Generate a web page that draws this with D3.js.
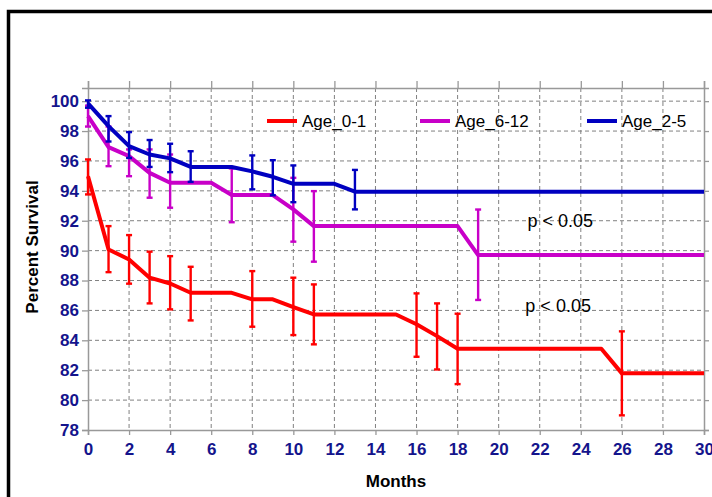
<!DOCTYPE html>
<html>
<head>
<meta charset="utf-8">
<script src="https://cdn.jsdelivr.net/npm/d3@7"></script>
<style>
  body { margin: 0; background: #fff; }
  text { font-family: Arial, "Liberation Sans", sans-serif; }
</style>
</head>
<body>
<div id="plot"></div>
<script>
// tick labels
const xTicks = [0, 2, 4, 6, 8, 10, 12, 14, 16, 18, 20, 22, 24, 26, 28, 30];
const yTicks = [78, 80, 82, 84, 86, 88, 90, 92, 94, 96, 98, 100];

const groups = ["Age_0-1", "Age_6-12", "Age_2-5"];

// Age_0-1 survival curve + error bars
const age01Months = [0, 1, 2, 3, 4, 5, 7, 8, 9, 10, 11, 15, 16, 17, 18, 25, 26, 30];
const age01Values = [94.98, 90.08, 89.41, 88.19, 87.8, 87.18, 87.18, 86.74, 86.74, 86.22, 85.73, 85.73, 85.07, 84.28, 83.44, 83.44, 81.79, 81.79];
const age01ErrMonths = [0, 1, 2, 3, 4, 5, 8, 10, 11, 16, 17, 18, 26];
const age01ErrLow = [93.76, 88.56, 87.79, 86.47, 86.07, 85.33, 84.91, 84.35, 83.73, 82.9, 82.05, 81.07, 78.98];
const age01ErrHigh = [96.1, 91.64, 91.04, 89.93, 89.63, 88.92, 88.63, 88.19, 87.74, 87.14, 86.47, 85.78, 84.6];

// Age_6-12
const age612Months = [0, 1, 2, 3, 4, 6, 7, 9, 10, 11, 18, 19, 30];
const age612Values = [99.0, 96.92, 96.32, 95.2, 94.54, 94.54, 93.72, 93.72, 92.76, 91.64, 91.64, 89.7, 89.7];
const age612ErrMonths = [0, 1, 2, 3, 4, 7, 10, 11, 19];
const age612ErrLow = [98.3, 95.65, 94.98, 93.54, 92.87, 91.9, 90.6, 89.26, 86.7];
const age612ErrHigh = [99.7, 98.3, 96.77, 96.77, 96.43, 95.5, 94.87, 93.98, 92.75];

// Age_2-5
const age25Months = [0, 1, 2, 3, 4, 5, 7, 8, 9, 10, 12, 13, 30];
const age25Values = [99.85, 98.33, 96.99, 96.43, 96.17, 95.6, 95.6, 95.3, 94.94, 94.47, 94.47, 93.94, 93.94];
const age25ErrMonths = [0, 1, 2, 3, 4, 5, 8, 9, 10, 13];
const age25ErrLow = [99.56, 97.3, 96.2, 95.6, 95.25, 94.6, 94.1, 93.7, 93.24, 92.76];
const age25ErrHigh = [100.05, 99.0, 97.93, 97.4, 97.15, 96.65, 96.37, 96.05, 95.7, 95.4];

const pLabels = ["p < 0.05", "p < 0.05"];
const pValuePos = [[21.4, 91.6], [21.3, 85.9]];

const colors = ["#ff0000", "#c800c8", "#0000c0"];

const series = [
  {name: groups[0], color: colors[0], months: age01Months, values: age01Values,
   err: [age01ErrMonths, age01ErrLow, age01ErrHigh]},
  {name: groups[1], color: colors[1], months: age612Months, values: age612Values,
   err: [age612ErrMonths, age612ErrLow, age612ErrHigh]},
  {name: groups[2], color: colors[2], months: age25Months, values: age25Values,
   err: [age25ErrMonths, age25ErrLow, age25ErrHigh]}
];

constructPlot();

function constructPlot(){
  const w = 712;
  const h = 497;
  const left = 88, right = 704, top = 88, bottom = 430;

  const xScale = d3.scaleLinear()
                   .domain([0, 30])
                   .range([left, right]);

  const yScale = d3.scaleLinear()
                   .domain([78, 100.88])
                   .range([bottom, top]);

  const svg = d3.select("#plot")
                .append("svg")
                .attr("width", w)
                .attr("height", h);

  // outer frame (runs off the right/bottom edge)
  svg.append("rect")
     .attr("x", 8.5)
     .attr("y", 11.5)
     .attr("width", 800)
     .attr("height", 600)
     .attr("fill", "none")
     .attr("stroke", "#000")
     .attr("stroke-width", 3.5);

  // dashed grid
  const grid = svg.append("g").attr("class", "grid");
  grid.selectAll("line.gx")
      .data(xTicks.slice(1, -1))
      .enter()
      .append("line")
        .attr("x1", d => xScale(d))
        .attr("x2", d => xScale(d))
        .attr("y1", top)
        .attr("y2", bottom)
        .attr("stroke", "#808080")
        .attr("stroke-dasharray", "4,3");
  grid.selectAll("line.gy")
      .data(yTicks.slice(1))
      .enter()
      .append("line")
        .attr("x1", left)
        .attr("x2", right)
        .attr("y1", d => yScale(d))
        .attr("y2", d => yScale(d))
        .attr("stroke", "#808080")
        .attr("stroke-dasharray", "4,3");

  const xAxis = d3.axisBottom(xScale).tickValues(xTicks).tickSize(5).tickPadding(8).tickFormat(d3.format("d"));
  const yAxis = d3.axisLeft(yScale).tickValues(yTicks).tickSize(6).tickPadding(3);
  const xTop = d3.axisTop(xScale).tickValues(xTicks).tickSize(7).tickFormat("");
  const yRight = d3.axisRight(yScale).tickValues(yTicks).tickSize(5).tickFormat("");

  svg.append("g")
     .attr("transform", "translate(0," + bottom + ")")
     .attr("id", "x-axis")
     .call(xAxis);
  svg.append("g")
     .attr("transform", "translate(" + left + ",0)")
     .attr("id", "y-axis")
     .call(yAxis);
  svg.append("g")
     .attr("transform", "translate(0," + top + ")")
     .call(xTop);
  svg.append("g")
     .attr("transform", "translate(" + right + ",0)")
     .call(yRight);

  svg.selectAll(".domain")
     .attr("stroke", "#999")
     .attr("stroke-width", 1.5);
  svg.selectAll(".tick line")
     .attr("stroke", "#999")
     .attr("stroke-width", 1.3);
  svg.selectAll(".tick text")
     .attr("fill", "#14148c")
     .style("font-size", "17px")
     .style("font-weight", "bold");

  svg.append("text")
     .attr("x", 396)
     .attr("y", 487)
     .attr("text-anchor", "middle")
     .style("font-size", "17px")
     .style("font-weight", "bold")
     .text("Months");

  svg.append("text")
     .attr("transform", "translate(38,247) rotate(-90)")
     .attr("text-anchor", "middle")
     .style("font-size", "17px")
     .style("font-weight", "bold")
     .text("Percent Survival");

  //-----------------plot data-----------------------
  const line = d3.line()
                 .x(d => xScale(d[0]))
                 .y(d => yScale(d[1]));

  series.forEach(s => {
    const pts = s.months.map((m, i) => [m, s.values[i]]);
    svg.append("path")
       .datum(pts)
       .attr("d", line)
       .attr("fill", "none")
       .attr("stroke", s.color)
       .attr("stroke-width", 4)
       .attr("stroke-linejoin", "round");

    const bars = s.err[0].map((m, i) => [m, s.err[1][i], s.err[2][i]]);
    const eb = svg.append("g").attr("stroke", s.color).attr("stroke-width", 2.4);
    eb.selectAll("line.v")
      .data(bars)
      .enter()
      .append("line")
        .attr("x1", d => xScale(d[0]))
        .attr("x2", d => xScale(d[0]))
        .attr("y1", d => yScale(d[1]))
        .attr("y2", d => yScale(d[2]));
    [1, 2].forEach(k => {
      eb.selectAll("line.c" + k)
        .data(bars)
        .enter()
        .append("line")
          .attr("x1", d => xScale(d[0]) - 3)
          .attr("x2", d => xScale(d[0]) + 3)
          .attr("y1", d => yScale(d[k]))
          .attr("y2", d => yScale(d[k]));
    });
  });

  // legend
  const legendX = [267, 420, 587];
  const legend = svg.selectAll("g.legend")
                    .data(series)
                    .enter()
                    .append("g")
                      .attr("transform", (d, i) => "translate(" + legendX[i] + ",121)");
  legend.append("line")
        .attr("x1", 0)
        .attr("x2", 30)
        .attr("stroke", d => d.color)
        .attr("stroke-width", 4);
  legend.append("text")
        .attr("x", 35)
        .attr("y", 6)
        .style("font-size", "17px")
        .text(d => d.name);

  svg.selectAll("text.p")
     .data(pLabels)
     .enter()
     .append("text")
       .attr("x", (d, i) => xScale(pValuePos[i][0]))
       .attr("y", (d, i) => yScale(pValuePos[i][1]))
       .style("font-size", "18px")
       .text(d => d);
}
</script>
</body>
</html>
